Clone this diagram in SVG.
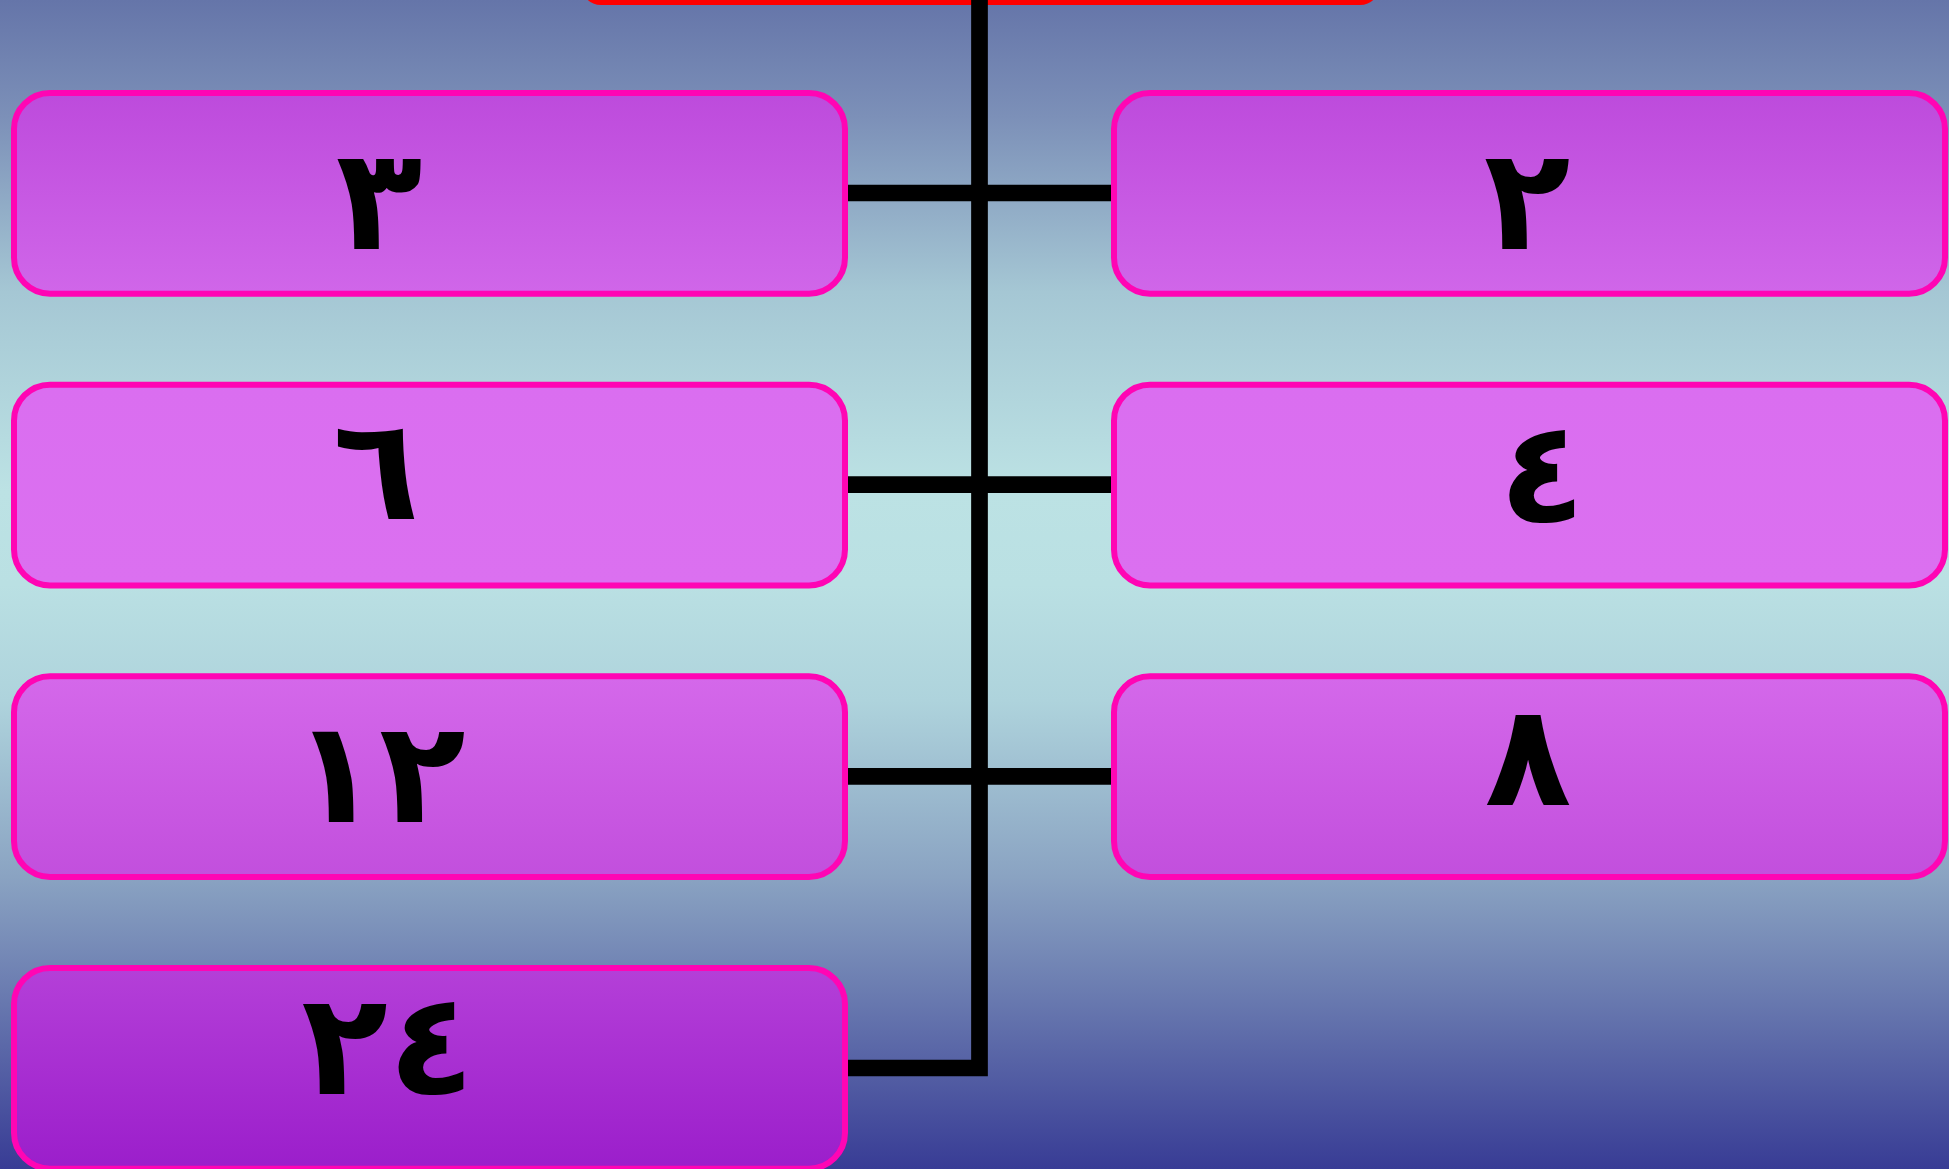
<svg xmlns="http://www.w3.org/2000/svg" width="1949" height="1169" viewBox="0 0 1949 1169">
<defs>
<linearGradient id="bg" x1="0" y1="0" x2="0" y2="1169" gradientUnits="userSpaceOnUse">
<stop offset="0" stop-color="#6575a9"/>
<stop offset="0.1" stop-color="#7c90b8"/>
<stop offset="0.25" stop-color="#a5c7d4"/>
<stop offset="0.42" stop-color="#bce2e4"/>
<stop offset="0.5" stop-color="#bae0e3"/>
<stop offset="0.6" stop-color="#aed3dc"/>
<stop offset="0.75" stop-color="#8aa3c2"/>
<stop offset="0.85" stop-color="#6a7bb0"/>
<stop offset="1" stop-color="#383c95"/>
</linearGradient>
<linearGradient id="boxfill" x1="0" y1="0" x2="0" y2="1169" gradientUnits="userSpaceOnUse">
<stop offset="0.08" stop-color="#bd4bdc"/>
<stop offset="0.25" stop-color="#d066e9"/>
<stop offset="0.33" stop-color="#da6ef0"/>
<stop offset="0.5" stop-color="#db70f0"/>
<stop offset="0.58" stop-color="#d468ea"/>
<stop offset="0.75" stop-color="#c24fdd"/>
<stop offset="0.83" stop-color="#b43fd8"/>
<stop offset="1" stop-color="#9b1ecb"/>
</linearGradient>
</defs>
<style>
.box{fill:url(#boxfill);stroke:#ff05b4;stroke-width:6}
.lbl{font-family:"DejaVu Sans",sans-serif;font-weight:bold;font-size:142px;fill:#000;text-anchor:middle}
.conn{fill:none;stroke:#000;stroke-width:16.7;stroke-linejoin:miter}
</style>
<rect x="0" y="0" width="1949" height="1169" fill="url(#bg)"/>
<g id="top">
<rect x="581" y="-200" width="799" height="205" rx="20" fill="#ff0000"/>
</g>
<g id="connectors">
<path class="conn" d="M979.5 0 V1068 H841"/>
<path class="conn" d="M841 193 H1118"/>
<path class="conn" d="M841 484.7 H1118"/>
<path class="conn" d="M841 776.3 H1118"/>
</g>
<g id="n3">
<rect class="box" x="14" y="93" width="831" height="200.7" rx="36"/>
<text class="lbl" x="379" y="249">٣</text>
</g>
<g id="n2">
<rect class="box" x="1114" y="93" width="831" height="200.7" rx="36"/>
<text class="lbl" x="1527" y="249">٢</text>
</g>
<g id="n6">
<rect class="box" x="14" y="384.7" width="831" height="200.7" rx="36"/>
<text class="lbl" x="376" y="519">٦</text>
</g>
<g id="n4">
<rect class="box" x="1114" y="384.7" width="831" height="200.7" rx="36"/>
<text class="lbl" x="1542" y="522">٤</text>
</g>
<g id="n12">
<rect class="box" x="14" y="676.3" width="831" height="200.7" rx="36"/>
<text class="lbl" x="379" y="822" letter-spacing="41">١٢</text>
</g>
<g id="n8">
<rect class="box" x="1114" y="676.3" width="831" height="200.7" rx="36"/>
<text class="lbl" x="1528" y="805">٨</text>
</g>
<g id="n24">
<rect class="box" x="14" y="968" width="831" height="200.7" rx="36"/>
<text class="lbl" x="388" y="1094" letter-spacing="41">٢٤</text>
</g>
</svg>
